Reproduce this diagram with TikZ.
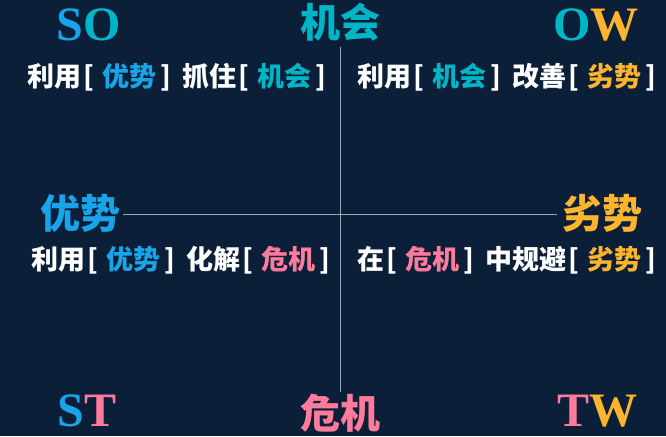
\documentclass[tikz,border=0pt]{standalone}
\usepackage{fontspec}
\setmainfont{Liberation Serif}
\newfontfamily\cjk{Noto Sans CJK SC}
\definecolor{bg}{HTML}{0B1F39}
\definecolor{cb}{HTML}{17A4E8}
\definecolor{ct}{HTML}{00B5C6}
\definecolor{co}{HTML}{FDB52E}
\definecolor{cp}{HTML}{FF7B9C}
\definecolor{axisc}{HTML}{9AAABB}
\newcommand{\lbk}{\hspace{2pt}[\hspace{8pt}}
\newcommand{\rbk}{\hspace{4pt}]}
\begin{document}
\begin{tikzpicture}[x=1pt,y=-1pt,
  big/.style={font=\fontsize{48}{48}\selectfont\bfseries, inner sep=0pt, anchor=base},
  head/.style={font=\cjk\fontsize{40}{40}\selectfont\bfseries, inner sep=0pt},
  body/.style={font=\cjk\fontsize{27}{27}\selectfont\bfseries, text=white, inner sep=0pt, anchor=west},
  axis/.style={draw=axisc, line width=0.9pt}]
\fill[bg] (0,0) rectangle (666,436);
\useasboundingbox (0,0) rectangle (666,436);
% axes
\coordinate (vt) at (340,47);
\coordinate (vb) at (340,392);
\coordinate (hl) at (123,214);
\coordinate (hr) at (557,214);
\draw[axis] (vt) -- (vb);
\draw[axis] (hl) -- (hr);
% corner letters
\node[big] (so) at (89,41) {\textcolor{cb}{S}\textcolor{ct}{O}};
\node[big] (ow) at (596,41) {\textcolor{ct}{O}\textcolor{co}{W}};
\node[big] (st) at (87,426) {\textcolor{cb}{S}\textcolor{cp}{T}};
\node[big] (tw) at (597,426) {\textcolor{cp}{T}\textcolor{co}{W}};
% axis titles
\node[head, text=ct] (jh) at (340,22) {机会};
\node[head, text=cb] (ys) at (80,213) {优势};
\node[head, text=co] (ls) at (602,213) {劣势};
\node[head, text=cp] (wj) at (340,413) {危机};
% quadrant texts
\node[body] (t1) at (27,77) {利用\lbk\textcolor{cb}{优势}\rbk\hspace{12pt}抓住\lbk\textcolor{ct}{机会}\rbk};
\node[body] (t2) at (357,77) {利用\lbk\textcolor{ct}{机会}\rbk\hspace{12pt}改善\lbk\textcolor{co}{劣势}\rbk};
\node[body] (t3) at (31,260) {利用\lbk\textcolor{cb}{优势}\rbk\hspace{12pt}化解\lbk\textcolor{cp}{危机}\rbk};
\node[body] (t4) at (357,260) {在\lbk\textcolor{cp}{危机}\rbk\hspace{12pt}中规避\lbk\textcolor{co}{劣势}\rbk};
\end{tikzpicture}
\end{document}
